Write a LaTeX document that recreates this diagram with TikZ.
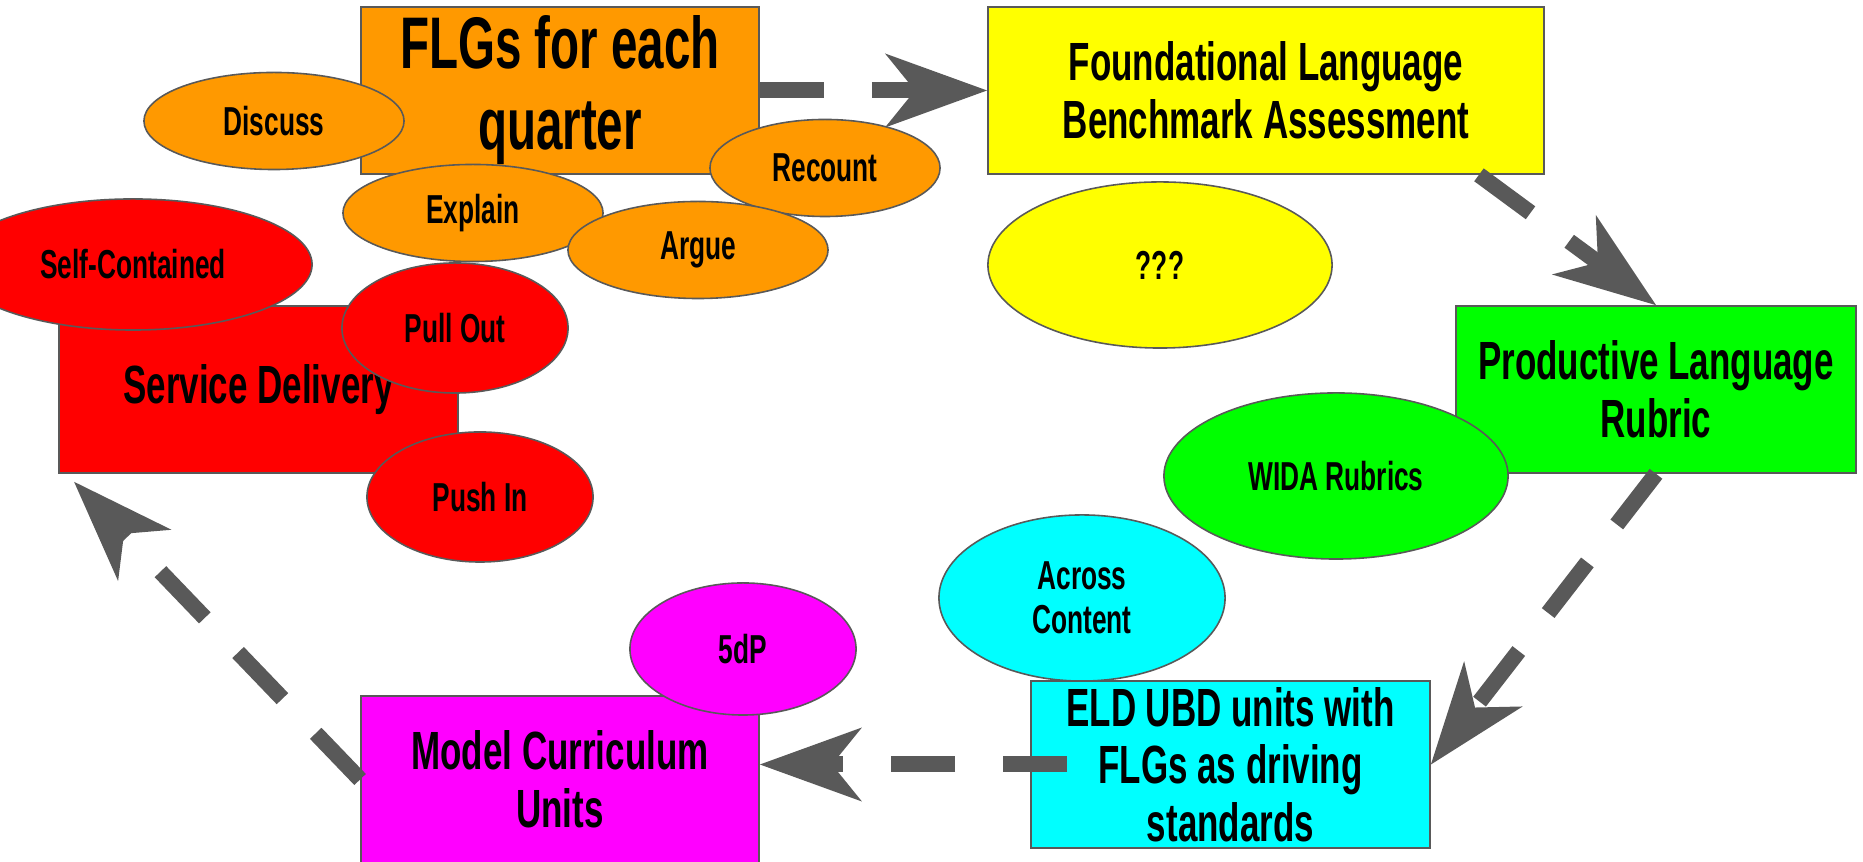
\documentclass[tikz,border=0pt]{standalone}
\usepackage{fontspec}
\newfontfamily\slidefont{Liberation Sans}[FakeStretch=0.65]
\usetikzlibrary{shapes.geometric,arrows.meta}
\definecolor{outline}{HTML}{595959}
\definecolor{flgorange}{HTML}{FF9900}
\definecolor{benchyellow}{HTML}{FFFF00}
\definecolor{rubricgreen}{HTML}{00FF00}
\definecolor{deliveryred}{HTML}{FF0000}
\definecolor{unitcyan}{HTML}{00FFFF}
\definecolor{modelmagenta}{HTML}{FF00FF}

\begin{document}
\begin{tikzpicture}[x=0.01cm,y=-0.01cm,
  box/.style={rectangle,draw=outline,line width=0.45pt,inner sep=0pt,
    minimum width=3.99cm,minimum height=1.67cm,align=center,
    font=\slidefont\bfseries\fontsize{15.3pt}{16.4pt}\selectfont},
  bubble/.style={ellipse,draw=outline,line width=0.45pt,inner sep=0pt,align=center,
    font=\slidefont\bfseries\fontsize{11.5pt}{12.5pt}\selectfont},
  flow/.style={color=outline,line width=1.6mm,dash pattern=on 6.4mm off 4.8mm,
    -{Stealth[length=10.2mm,width=7.4mm,inset=3mm,line width=0pt]}}]
  \useasboundingbox (0,0) rectangle (1863,862);
  \clip (0,0) rectangle (1863,862);

  \node[box,fill=flgorange,minimum width=3.98cm,
    font=\slidefont\bfseries\fontsize{20.8pt}{23pt}\selectfont]
                                  (flg)     at (560,90.5)    {FLGs for each\\quarter};
  \node[box,fill=benchyellow,minimum width=5.56cm]
                                  (found)   at (1266,90.5)   {Foundational Language\\Benchmark Assessment};
  \node[box,fill=rubricgreen,minimum width=4cm]
                                  (prod)    at (1656,389.5)  {Productive Language\\Rubric};
  \node[box,fill=deliveryred]     (service) at (258.5,389.5) {Service Delivery};
  \node[box,fill=modelmagenta,minimum width=3.98cm]
                                  (model)   at (560,779.5)   {Model Curriculum\\Units};
  \node[box,fill=unitcyan]        (eld)     at (1230.5,764.5) {ELD UBD units with\\FLGs as driving\\standards};

  \path (flg.east) edge[flow] (found.west)
        ([shift={(-66,0)}]found.south east) edge[flow] (prod.north)
        (prod.south) edge[flow] (eld.east)
        ([shift={(37,0)}]eld.west) edge[flow] (model.east |- eld.west)
        (model.west) edge[flow] ([shift={(16,8)}]service.south west);

  \node[bubble,fill=flgorange,minimum width=2.6cm,minimum height=0.97cm]     (discuss)  at (274,121)   {Discuss};
  \node[bubble,fill=flgorange,minimum width=2.3cm,minimum height=0.97cm]     (recount)  at (825,168)   {Recount};
  \node[bubble,fill=flgorange,minimum width=2.6cm,minimum height=0.97cm]     (explain)  at (473,213)   {Explain};
  \node[bubble,fill=flgorange,minimum width=2.6cm,minimum height=0.97cm]     (argue)    at (698,250)   {Argue};
  \node[bubble,fill=deliveryred,minimum width=3.58cm,minimum height=1.31cm]  (selfcont) at (133,264.5) {Self-Contained};
  \node[bubble,fill=deliveryred,minimum width=2.26cm,minimum height=1.3cm]   (pullout)  at (455,328)   {Pull Out};
  \node[bubble,fill=deliveryred,minimum width=2.26cm,minimum height=1.3cm]   (pushin)   at (480,497)   {Push In};
  \node[bubble,fill=benchyellow,minimum width=3.44cm,minimum height=1.66cm]  (unknown)  at (1160,265)  {???};
  \node[bubble,fill=rubricgreen,minimum width=3.44cm,minimum height=1.66cm]  (wida)     at (1336,476)  {WIDA Rubrics};
  \node[bubble,fill=unitcyan,minimum width=2.86cm,minimum height=1.66cm]     (across)   at (1082,598)  {Across\\Content};
  \node[bubble,fill=modelmagenta,minimum width=2.26cm,minimum height=1.32cm] (fivedp)   at (743,649)   {5dP};
\end{tikzpicture}
\end{document}
